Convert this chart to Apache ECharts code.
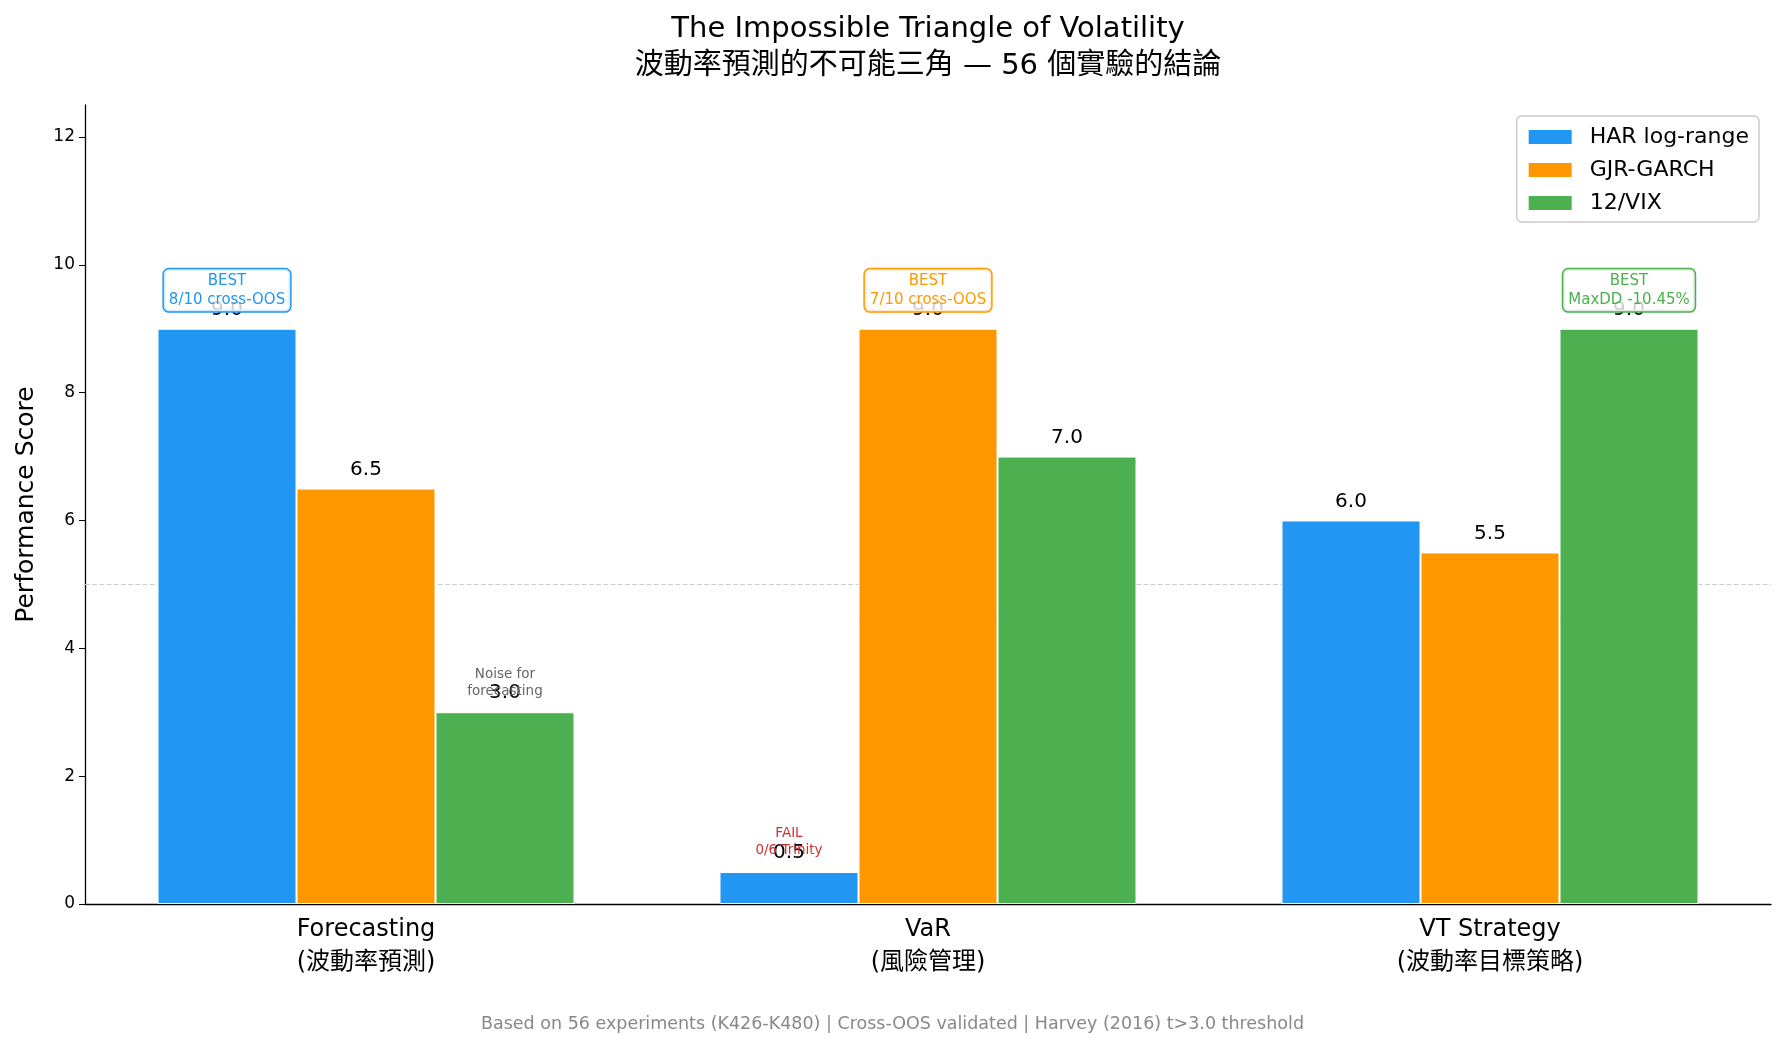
<!DOCTYPE html>
<html>
<head>
<meta charset="utf-8">
<script src="https://cdn.jsdelivr.net/npm/echarts@6/dist/echarts.min.js"></script>
<style>
  html, body { margin: 0; background: #fff; }
  #chart { width: 1785px; height: 1047px; }
</style>
</head>
<body>
<div id="chart"></div>
<script>
// data
const categories = ['Forecasting\n(波動率預測)', 'VaR\n(風險管理)', 'VT Strategy\n(波動率目標策略)']
const seriesNames = ['HAR log-range', 'GJR-GARCH', '12/VIX']
const harScores = [9.0, 0.5, 6.0]
const garchScores = [6.5, 9.0, 5.5]
const vixScores = [3.0, 7.0, 9.0]
const yTicks = [0, 2, 4, 6, 8, 10, 12]
const yMax = 12.5
const refLevel = 5
// notes: series index, category index, y, text
const notes = [
  { s: 0, c: 0, y: 9.6, text: 'BEST\n8/10 cross-OOS', box: true },
  { s: 2, c: 0, y: 3.45, text: 'Noise for\nforecasting', color: '#666' },
  { s: 0, c: 1, y: 0.97, text: 'FAIL\n0/6 Trinity', color: '#D32F2F' },
  { s: 1, c: 1, y: 9.6, text: 'BEST\n7/10 cross-OOS', box: true },
  { s: 2, c: 2, y: 9.6, text: 'BEST\nMaxDD -10.45%', box: true },
]

const colors = ['#2196F3', '#FF9800', '#4CAF50']
const font = "'DejaVu Sans', 'Noto Sans CJK TC', sans-serif"
const allScores = [harScores, garchScores, vixScores]

function notePoints(si) {
  return notes.filter(n => n.s === si).map(n => ({
    coord: [n.c, n.y],
    label: n.box ? {
      color: colors[si],
      backgroundColor: 'rgba(255,255,255,0.8)',
      borderColor: colors[si], borderWidth: 1.5, borderRadius: 5,
      padding: [3, 5, 1, 5], fontSize: 15, lineHeight: 19,
      formatter: n.text,
    } : {
      color: n.color, fontSize: 13.5, lineHeight: 17, formatter: n.text,
    },
  }))
}

const chart = echarts.init(document.getElementById('chart'))
chart.setOption({
  animation: false,
  color: colors,
  textStyle: { fontFamily: font },
  title: [
    {
      text: 'The Impossible Triangle of Volatility\n波動率預測的不可能三角 — 56 個實驗的結論',
      left: 923, top: 6, textAlign: 'center',
      textStyle: { fontSize: 29, lineHeight: 37, fontWeight: 'normal', color: '#000', fontFamily: font },
    },
    {
      text: 'Based on 56 experiments (K426-K480) | Cross-OOS validated | Harvey (2016) t>3.0 threshold',
      left: 'center', top: 1011,
      textStyle: { fontSize: 17.5, fontWeight: 'normal', color: '#888', fontFamily: font },
    },
  ],
  legend: {
    orient: 'vertical', right: 26, top: 116,
    itemWidth: 45, itemHeight: 16, itemGap: 11,
    padding: [10, 10, 8, 10],
    borderColor: '#ccc', borderWidth: 1.5, borderRadius: 5,
    backgroundColor: '#fff',
    icon: 'rect',
    textStyle: { fontSize: 22, color: '#000', padding: [0, 0, 0, 12] },
    data: seriesNames,
  },
  grid: { left: 85, right: 14, top: 105, bottom: 143 },
  xAxis: {
    type: 'category',
    data: categories,
    axisLine: { lineStyle: { color: '#000', width: 1.3 } },
    axisTick: { alignWithLabel: true, length: 6, lineStyle: { color: '#000' } },
    axisLabel: { fontSize: 24, lineHeight: 33, color: '#000', margin: 9 },
  },
  yAxis: {
    type: 'value', min: 0, max: yMax,
    name: 'Performance Score', nameLocation: 'middle', nameGap: 46,
    nameTextStyle: { fontSize: 25, color: '#000' },
    axisLine: { show: true, lineStyle: { color: '#000', width: 1.3 } },
    axisTick: { show: true, length: 6, lineStyle: { color: '#000' }, customValues: yTicks },
    axisLabel: { fontSize: 17, color: '#000', margin: 10, customValues: yTicks },
    splitLine: { show: false },
  },
  series: seriesNames.map((name, si) => ({
    name,
    type: 'bar',
    data: allScores[si],
    barWidth: 139,
    barGap: '0%',
    itemStyle: { color: colors[si], borderColor: '#fff', borderWidth: 1 },
    label: {
      show: true, position: 'top', distance: 9,
      fontSize: 20, color: '#000',
      formatter: p => p.value.toFixed(1),
    },
    markPoint: {
      silent: true, symbol: 'rect', symbolSize: 1,
      itemStyle: { color: 'rgba(0,0,0,0)' },
      label: { show: true, position: 'inside' },
      data: notePoints(si),
    },
    markLine: si === 0 ? {
      silent: true, symbol: 'none', z: 1,
      label: { show: false },
      lineStyle: { type: 'dashed', color: '#ccc', width: 1.2 },
      data: [{ yAxis: refLevel }],
    } : undefined,
  })),
})
</script>
</body>
</html>
